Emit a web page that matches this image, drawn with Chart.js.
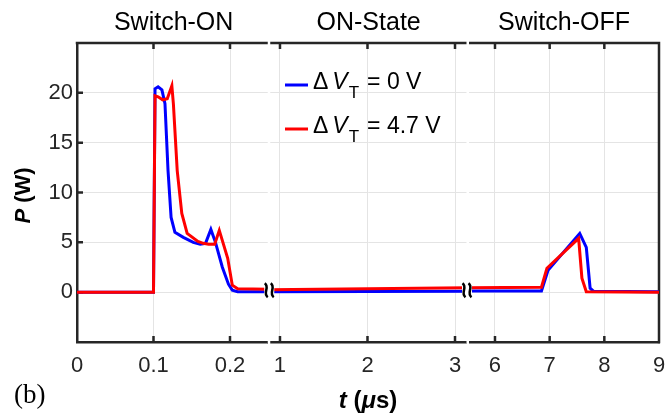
<!DOCTYPE html>
<html>
<head>
<meta charset="utf-8">
<script src="https://cdn.jsdelivr.net/npm/chart.js@4.4.1/dist/chart.umd.min.js"></script>
<style>
  html, body { margin: 0; padding: 0; background: #fff; }
  canvas { display: block; }
</style>
</head>
<body>
<canvas id="powerChart" width="666" height="413"></canvas>
<script>
// Switch-ON window (t in us, P in W)
const onTimeBlue  = [0, 0.1, 0.102, 0.106, 0.111, 0.115, 0.119, 0.123, 0.128, 0.139, 0.152, 0.161, 0.168, 0.175, 0.181, 0.19, 0.198, 0.203, 0.21, 0.25];
const onPowerBlue = [0, 0, 20.4, 20.6, 20.3, 18.9, 12.2, 7.5, 6.0, 5.5, 5.0, 4.8, 4.9, 6.3, 5.0, 2.5, 0.8, 0.2, 0.05, 0.05];
const onTimeRed   = [0, 0.1, 0.102, 0.106, 0.112, 0.118, 0.124, 0.126, 0.131, 0.137, 0.144, 0.158, 0.165, 0.172, 0.18, 0.186, 0.197, 0.203, 0.21, 0.25];
const onPowerRed  = [0, 0, 19.7, 19.6, 19.3, 19.4, 20.7, 18.9, 12.2, 7.9, 5.9, 5.1, 4.9, 4.8, 4.8, 6.2, 3.4, 0.7, 0.35, 0.3];

// ON-State window
const midTime      = [0.87, 3.13];
const midPowerBlue = [0.05, 0.1];
const midPowerRed  = [0.25, 0.45];

// Switch-OFF window
const offTimeBlue  = [5.5, 6.85, 6.97, 7.55, 7.67, 7.74, 7.8, 9];
const offPowerBlue = [0.12, 0.12, 2.2, 5.9, 4.5, 0.4, 0.1, 0.05];
const offTimeRed   = [5.5, 6.85, 6.95, 7.53, 7.59, 7.67, 9];
const offPowerRed  = [0.45, 0.5, 2.4, 5.4, 1.4, 0.05, 0];

const panelTitles = ['Switch-ON', 'ON-State', 'Switch-OFF'];
const onTicks  = [0, 0.1, 0.2];
const midTicks = [1, 2, 3];
const offTicks = [6, 7, 8, 9];
const yTicks   = [0, 5, 10, 15, 20];
const legendValues = ['0 V', '4.7 V'];

const BLUE = '#0000ff', RED = '#ff0000', AXIS = '#262626', GRID = '#e4e4e4';
const FONT = '"Liberation Sans", Arial, sans-serif';

const pts = (xs, ys) => xs.map((x, i) => ({ x: x, y: ys[i] }));
const line = (data, color, axis) => ({
  data: data, xAxisID: axis, yAxisID: 'y',
  borderColor: color, borderWidth: 3, pointRadius: 0, fill: false, tension: 0
});

function xScale(ticks, min, max, weight) {
  return {
    type: 'linear', axis: 'x', position: 'bottom', stack: 'time', stackWeight: weight,
    min: min, max: max,
    grid: { color: GRID, lineWidth: 1, drawTicks: false },
    border: { color: AXIS, width: 2.5 },
    ticks: { color: AXIS, font: { family: FONT, size: 22 }, padding: 11, maxRotation: 0, autoSkip: false,
             callback: v => String(v) },
    afterBuildTicks: s => { s.ticks = ticks.map(v => ({ value: v })); },
    afterFit: s => { s.height = 71; s.paddingLeft = 0; s.paddingRight = 0; }
  };
}

const framePlugin = {
  id: 'frame',
  beforeDatasetsDraw(chart) {
    const ctx = chart.ctx, ca = chart.chartArea, sc = chart.scales;
    ctx.save();
    ctx.strokeStyle = AXIS;
    ctx.lineWidth = 2.5;
    ctx.beginPath();
    ctx.moveTo(ca.left - 1.25, ca.top); ctx.lineTo(ca.right, ca.top);
    ctx.moveTo(ca.right, ca.top - 1.25); ctx.lineTo(ca.right, ca.bottom + 1.25);
    ctx.stroke();
    // inward tick marks
    ctx.beginPath();
    ['x1', 'x2', 'x3'].forEach(id => {
      const s = sc[id];
      s.ticks.forEach(t => {
        const px = s.getPixelForValue(t.value);
        if (px <= ca.left + 1 || px >= ca.right - 1) return;
        ctx.moveTo(px, ca.bottom); ctx.lineTo(px, ca.bottom - 6);
        ctx.moveTo(px, ca.top); ctx.lineTo(px, ca.top + 6);
      });
    });
    sc.y.ticks.forEach(t => {
      const py = sc.y.getPixelForValue(t.value);
      ctx.moveTo(ca.left, py); ctx.lineTo(ca.left + 6, py);
    });
    ctx.stroke();
    // gaps between the axis windows
    ctx.fillStyle = '#fff';
    [sc.x1.right, sc.x2.right].forEach(b => {
      ctx.fillRect(b - 0.5, ca.top - 3, 2.5, ca.bottom - ca.top + 6);
    });
    ctx.restore();
  },
  afterDatasetsDraw(chart) {
    const ctx = chart.ctx, sc = chart.scales;
    const yc = sc.y.getPixelForValue(0.2);
    ctx.save();
    [sc.x1.right + 1, sc.x2.right].forEach(b => {
      ctx.fillStyle = '#fff';
      ctx.fillRect(b - 5, yc - 6, 10, 12);
      ctx.strokeStyle = '#000';
      ctx.lineWidth = 2.5;
      [-3, 3].forEach(dx => {
        const x = b + dx;
        ctx.beginPath();
        ctx.moveTo(x - 1.5, yc - 7);
        ctx.bezierCurveTo(x + 4, yc - 3, x - 4, yc + 3, x + 1.5, yc + 7);
        ctx.stroke();
      });
    });
    ctx.restore();
  },
  afterDraw(chart) {
    const ctx = chart.ctx, ca = chart.chartArea, sc = chart.scales;
    ctx.save();
    ctx.fillStyle = '#000';
    // panel titles
    ctx.font = '25px ' + FONT;
    ctx.textAlign = 'center';
    ctx.textBaseline = 'alphabetic';
    ['x1', 'x2', 'x3'].forEach((id, i) => {
      const s = sc[id];
      ctx.fillText(panelTitles[i], (s.left + s.right) / 2 + 1, 30);
    });

    // legend
    ctx.textAlign = 'left';
    const colors = [BLUE, RED];
    const rowY = [89, 133];
    legendValues.forEach((val, i) => {
      const by = rowY[i];
      ctx.strokeStyle = colors[i];
      ctx.lineWidth = 3;
      ctx.beginPath();
      ctx.moveTo(285, by - 4); ctx.lineTo(308, by - 4);
      ctx.stroke();
      let x = 313;
      ctx.font = '23px ' + FONT;
      ctx.fillText('\u0394', x, by); x += ctx.measureText('\u0394').width + 4;
      ctx.font = 'italic 23px ' + FONT;
      ctx.fillText('V', x, by); x += ctx.measureText('V').width + 1;
      ctx.font = '17px ' + FONT;
      ctx.fillText('T', x, by + 9); x += ctx.measureText('T').width + 8;
      ctx.font = '23px ' + FONT;
      ctx.fillText('= ' + val, x, by);
    });

    // x-axis title
    const parts = [['bold italic', 't'], ['bold', ' ('], ['bold italic', '\u03bc'], ['bold', 's)']];
    let total = 0;
    parts.forEach(p => { ctx.font = p[0] + ' 24px ' + FONT; total += ctx.measureText(p[1]).width; });
    let x = (ca.left + ca.right) / 2 - total / 2;
    parts.forEach(p => { ctx.font = p[0] + ' 24px ' + FONT; ctx.fillText(p[1], x, 408); x += ctx.measureText(p[1]).width; });

    // y-axis title
    ctx.save();
    ctx.translate(30, (ca.top + ca.bottom) / 2 + 3);
    ctx.rotate(-Math.PI / 2);
    const yparts = [['bold italic', 'P'], ['bold', ' (W)']];
    total = 0;
    yparts.forEach(p => { ctx.font = p[0] + ' 22px ' + FONT; total += ctx.measureText(p[1]).width; });
    x = -total / 2;
    yparts.forEach(p => { ctx.font = p[0] + ' 22px ' + FONT; ctx.fillText(p[1], x, 0); x += ctx.measureText(p[1]).width; });
    ctx.restore();

    // panel label
    ctx.font = '27px "Liberation Serif", "Times New Roman", serif';
    ctx.fillText('(b)', 14, 403);
    ctx.restore();
  }
};

new Chart(document.getElementById('powerChart'), {
  type: 'line',
  data: {
    datasets: [
      line(pts(onTimeRed, onPowerRed), RED, 'x1'),
      line(pts(midTime, midPowerRed), RED, 'x2'),
      line(pts(offTimeRed, offPowerRed), RED, 'x3'),
      line(pts(onTimeBlue, onPowerBlue), BLUE, 'x1'),
      line(pts(midTime, midPowerBlue), BLUE, 'x2'),
      line(pts(offTimeBlue, offPowerBlue), BLUE, 'x3')
    ]
  },
  options: {
    responsive: false,
    animation: false,
    devicePixelRatio: 1,
    layout: { padding: { left: 0, right: 7, top: 43, bottom: 0 } },
    plugins: { legend: { display: false }, tooltip: { enabled: false } },
    scales: {
      x1: xScale(onTicks, 0, 0.25, 191.25),
      x2: xScale(midTicks, 0.866, 3.137, 198.75),
      x3: xScale(offTicks, 5.488, 9, 192),
      y: {
        type: 'linear', position: 'left', min: -5, max: 25,
        grid: { color: GRID, lineWidth: 1, drawTicks: false },
        border: { color: AXIS, width: 2.5 },
        ticks: { color: AXIS, font: { family: FONT, size: 22 }, padding: 4 },
        afterBuildTicks: s => { s.ticks = yTicks.map(v => ({ value: v })); },
        afterFit: s => { s.width = 77; s.paddingTop = 0; s.paddingBottom = 0; }
      }
    }
  },
  plugins: [framePlugin]
});
</script>
</body>
</html>
